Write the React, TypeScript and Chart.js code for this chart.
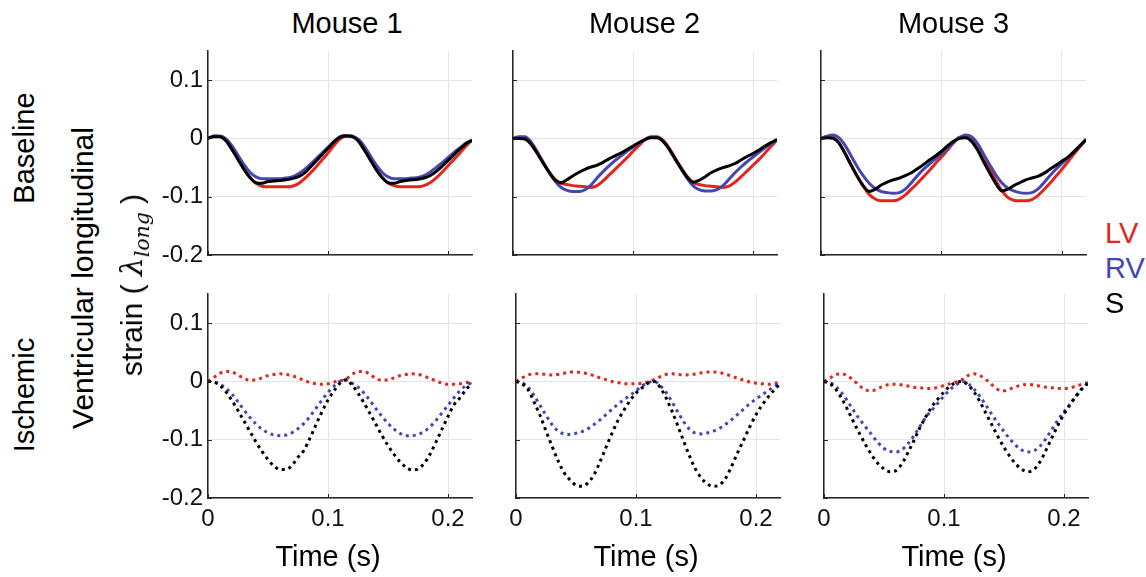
import React, { useEffect, useRef } from "react";
import { Chart, registerables } from "chart.js";

Chart.register(...registerables);

const FONT = "'Liberation Sans', Arial, Helvetica, sans-serif";
Chart.defaults.font.family = FONT;

const RED = "#e1261c";
const BLUE = "#4447b2";
const BLACK = "#000000";

// ---------- data ----------
const TIME = [
  0, 0.005, 0.01, 0.015, 0.02, 0.025, 0.03, 0.035, 0.04, 0.045, 0.05, 0.055, 0.06, 0.065, 0.07, 0.075, 0.08, 0.085,
  0.09, 0.095, 0.1, 0.105, 0.11, 0.115, 0.12, 0.125, 0.13, 0.135, 0.14, 0.145, 0.15, 0.155, 0.16, 0.165, 0.17, 0.175,
  0.18, 0.185, 0.19, 0.195, 0.2, 0.205, 0.21, 0.215, 0.22,
];
const Y_TICKS = [-0.2, -0.1, 0, 0.1];
const X_TICKS = [0, 0.1, 0.2];
const MICE = ["Mouse 1", "Mouse 2", "Mouse 3"];
const ROWS = ["Baseline", "Ischemic"];
const SERIES = ["LV", "RV", "S"];

// Baseline
const M1_BASE_LV = [0, 0.004, 0.003, -0.004, -0.019, -0.036, -0.053, -0.067, -0.077, -0.082, -0.083, -0.083, -0.083, -0.083, -0.082, -0.078, -0.07, -0.06, -0.049, -0.037, -0.025, -0.012, -0.001, 0.004, 0.004, -0.003, -0.018, -0.035, -0.052, -0.066, -0.076, -0.081, -0.083, -0.083, -0.083, -0.083, -0.081, -0.076, -0.068, -0.058, -0.047, -0.036, -0.025, -0.013, -0.003];
const M1_BASE_RV = [0, 0.004, 0.004, -0.001, -0.013, -0.029, -0.045, -0.058, -0.066, -0.069, -0.069, -0.069, -0.069, -0.068, -0.066, -0.061, -0.054, -0.045, -0.035, -0.025, -0.015, -0.005, 0.003, 0.005, 0.004, -0.001, -0.013, -0.029, -0.045, -0.058, -0.066, -0.069, -0.069, -0.069, -0.068, -0.067, -0.064, -0.058, -0.05, -0.042, -0.033, -0.024, -0.016, -0.008, -0.003];
const M1_BASE_S = [0, 0.003, 0.003, -0.004, -0.019, -0.036, -0.053, -0.067, -0.076, -0.077, -0.074, -0.073, -0.072, -0.071, -0.069, -0.066, -0.06, -0.05, -0.039, -0.028, -0.017, -0.006, 0.002, 0.004, 0.003, -0.004, -0.019, -0.036, -0.053, -0.067, -0.076, -0.077, -0.074, -0.072, -0.071, -0.07, -0.068, -0.064, -0.057, -0.048, -0.038, -0.028, -0.018, -0.009, -0.003];

const M2_BASE_LV = [0, 0.003, 0.003, -0.006, -0.022, -0.04, -0.057, -0.07, -0.077, -0.079, -0.081, -0.082, -0.083, -0.084, -0.081, -0.073, -0.063, -0.053, -0.043, -0.033, -0.022, -0.012, -0.002, 0.003, 0.003, -0.003, -0.016, -0.033, -0.05, -0.065, -0.075, -0.079, -0.081, -0.082, -0.083, -0.084, -0.082, -0.075, -0.066, -0.056, -0.046, -0.036, -0.025, -0.014, -0.003];
const M2_BASE_RV = [0, 0.002, 0.002, -0.007, -0.023, -0.041, -0.058, -0.073, -0.084, -0.089, -0.091, -0.091, -0.088, -0.08, -0.068, -0.057, -0.047, -0.038, -0.03, -0.022, -0.015, -0.008, -0.002, 0.002, 0.002, -0.004, -0.018, -0.035, -0.052, -0.068, -0.081, -0.088, -0.09, -0.09, -0.088, -0.081, -0.07, -0.059, -0.049, -0.04, -0.032, -0.024, -0.016, -0.009, -0.002];
const M2_BASE_S = [0, 0, -0.001, -0.01, -0.025, -0.042, -0.058, -0.071, -0.076, -0.071, -0.064, -0.058, -0.053, -0.049, -0.046, -0.041, -0.035, -0.03, -0.025, -0.019, -0.013, -0.007, -0.002, 0.001, 0.001, -0.005, -0.018, -0.035, -0.051, -0.066, -0.075, -0.072, -0.066, -0.059, -0.054, -0.05, -0.047, -0.043, -0.037, -0.031, -0.026, -0.02, -0.013, -0.007, -0.002];

const M3_BASE_LV = [0, 0.003, 0.002, -0.008, -0.026, -0.045, -0.064, -0.082, -0.096, -0.104, -0.107, -0.107, -0.107, -0.104, -0.097, -0.087, -0.077, -0.066, -0.055, -0.043, -0.032, -0.02, -0.008, 0.002, 0.003, -0.003, -0.016, -0.034, -0.053, -0.072, -0.089, -0.101, -0.106, -0.107, -0.107, -0.105, -0.098, -0.088, -0.077, -0.065, -0.053, -0.04, -0.027, -0.014, -0.002];
const M3_BASE_RV = [0, 0.004, 0.006, 0.001, -0.012, -0.03, -0.048, -0.064, -0.077, -0.086, -0.091, -0.093, -0.094, -0.093, -0.087, -0.076, -0.064, -0.053, -0.044, -0.035, -0.026, -0.017, -0.007, 0.001, 0.006, 0.003, -0.009, -0.027, -0.045, -0.062, -0.076, -0.085, -0.09, -0.093, -0.094, -0.093, -0.087, -0.076, -0.064, -0.053, -0.043, -0.033, -0.022, -0.012, -0.002];
const M3_BASE_S = [0, 0.001, 0, -0.008, -0.026, -0.046, -0.065, -0.081, -0.091, -0.087, -0.08, -0.075, -0.071, -0.068, -0.064, -0.059, -0.052, -0.045, -0.037, -0.03, -0.022, -0.013, -0.005, 0, 0.001, -0.005, -0.02, -0.04, -0.059, -0.077, -0.09, -0.087, -0.081, -0.076, -0.071, -0.068, -0.065, -0.06, -0.053, -0.046, -0.039, -0.032, -0.023, -0.013, -0.002];

// Ischemic
const M1_ISCH_LV = [0, 0.007, 0.014, 0.017, 0.016, 0.011, 0.005, 0.002, 0.003, 0.006, 0.01, 0.012, 0.013, 0.012, 0.01, 0.006, 0.002, -0.002, -0.004, -0.005, -0.004, -0.001, 0.001, 0.004, 0.012, 0.017, 0.017, 0.012, 0.005, 0.002, 0.003, 0.006, 0.01, 0.012, 0.013, 0.012, 0.009, 0.005, 0.001, -0.003, -0.005, -0.005, -0.004, -0.002, -0.001];
const M1_ISCH_RV = [0, -0.001, -0.005, -0.012, -0.022, -0.035, -0.049, -0.062, -0.073, -0.082, -0.088, -0.092, -0.093, -0.092, -0.088, -0.081, -0.072, -0.06, -0.046, -0.032, -0.019, -0.008, 0, 0.002, -0.003, -0.01, -0.02, -0.033, -0.047, -0.06, -0.072, -0.082, -0.089, -0.093, -0.093, -0.091, -0.086, -0.078, -0.067, -0.054, -0.041, -0.028, -0.016, -0.007, -0.002];
const M1_ISCH_S = [0, -0.001, -0.007, -0.018, -0.033, -0.05, -0.068, -0.086, -0.104, -0.12, -0.134, -0.145, -0.151, -0.151, -0.144, -0.13, -0.118, -0.097, -0.074, -0.052, -0.032, -0.016, -0.003, 0.003, -0.006, -0.02, -0.037, -0.055, -0.074, -0.093, -0.11, -0.125, -0.138, -0.147, -0.152, -0.15, -0.141, -0.125, -0.104, -0.082, -0.06, -0.04, -0.028, -0.014, -0.003];

const M2_ISCH_LV = [0, 0.006, 0.011, 0.013, 0.013, 0.012, 0.011, 0.012, 0.014, 0.016, 0.016, 0.015, 0.013, 0.01, 0.006, 0.003, 0, -0.002, -0.004, -0.004, -0.004, -0.003, -0.001, 0.003, 0.008, 0.012, 0.013, 0.012, 0.011, 0.012, 0.013, 0.015, 0.016, 0.016, 0.015, 0.012, 0.009, 0.005, 0.002, -0.001, -0.003, -0.004, -0.005, -0.004, -0.001];
const M2_ISCH_RV = [0, -0.002, -0.01, -0.024, -0.041, -0.058, -0.074, -0.085, -0.09, -0.091, -0.089, -0.086, -0.081, -0.074, -0.066, -0.057, -0.048, -0.039, -0.031, -0.024, -0.016, -0.008, -0.002, 0, -0.007, -0.019, -0.035, -0.053, -0.07, -0.083, -0.089, -0.09, -0.088, -0.085, -0.08, -0.073, -0.065, -0.056, -0.047, -0.038, -0.03, -0.023, -0.016, -0.009, -0.003];
const M2_ISCH_S = [0, -0.004, -0.014, -0.035, -0.058, -0.085, -0.111, -0.136, -0.156, -0.169, -0.178, -0.18, -0.174, -0.16, -0.138, -0.113, -0.089, -0.067, -0.049, -0.033, -0.02, -0.011, -0.003, 0, -0.01, -0.028, -0.051, -0.077, -0.104, -0.13, -0.152, -0.167, -0.177, -0.18, -0.177, -0.165, -0.144, -0.121, -0.099, -0.077, -0.057, -0.041, -0.027, -0.015, -0.004];

const M3_ISCH_LV = [0, 0.006, 0.012, 0.013, 0.009, 0.001, -0.008, -0.015, -0.016, -0.012, -0.008, -0.005, -0.005, -0.006, -0.008, -0.01, -0.011, -0.012, -0.012, -0.01, -0.007, -0.004, -0.001, 0.003, 0.01, 0.013, 0.01, 0.003, -0.006, -0.014, -0.016, -0.013, -0.009, -0.006, -0.005, -0.006, -0.008, -0.01, -0.011, -0.012, -0.012, -0.011, -0.008, -0.005, -0.002];
const M3_ISCH_RV = [0, -0.002, -0.009, -0.02, -0.035, -0.051, -0.066, -0.079, -0.092, -0.105, -0.115, -0.12, -0.121, -0.117, -0.107, -0.093, -0.077, -0.061, -0.049, -0.037, -0.025, -0.014, -0.006, 0, -0.004, -0.013, -0.026, -0.041, -0.057, -0.072, -0.086, -0.099, -0.11, -0.118, -0.121, -0.119, -0.111, -0.098, -0.082, -0.066, -0.052, -0.039, -0.026, -0.013, -0.003];
const M3_ISCH_S = [0, -0.004, -0.014, -0.03, -0.05, -0.071, -0.091, -0.11, -0.127, -0.141, -0.15, -0.155, -0.153, -0.141, -0.122, -0.101, -0.079, -0.06, -0.043, -0.03, -0.018, -0.008, -0.002, 0, -0.006, -0.018, -0.035, -0.055, -0.075, -0.095, -0.113, -0.129, -0.142, -0.151, -0.155, -0.151, -0.138, -0.118, -0.096, -0.075, -0.056, -0.04, -0.025, -0.012, -0.003];

// ---------- layout ----------
const YW = 70; // y-axis box width
const XH = 50; // x-axis box height
const PT = 10; // top padding
const PR = 12; // right padding

type Spec = {
  l: number; t: number; r: number; b: number;
  lv: number[]; rv: number[]; s: number[];
  dotted: boolean; showX: boolean; showY: boolean;
};

const PANELS: Spec[] = [
  { l: 208, t: 51, r: 472, b: 255, lv: M1_BASE_LV, rv: M1_BASE_RV, s: M1_BASE_S, dotted: false, showX: false, showY: true },
  { l: 513, t: 51, r: 777, b: 255, lv: M2_BASE_LV, rv: M2_BASE_RV, s: M2_BASE_S, dotted: false, showX: false, showY: false },
  { l: 821, t: 51, r: 1086, b: 255, lv: M3_BASE_LV, rv: M3_BASE_RV, s: M3_BASE_S, dotted: false, showX: false, showY: false },
  { l: 208, t: 294, r: 472, b: 498, lv: M1_ISCH_LV, rv: M1_ISCH_RV, s: M1_ISCH_S, dotted: true, showX: true, showY: true },
  { l: 516, t: 294, r: 780, b: 498, lv: M2_ISCH_LV, rv: M2_ISCH_RV, s: M2_ISCH_S, dotted: true, showX: true, showY: false },
  { l: 824, t: 294, r: 1088, b: 498, lv: M3_ISCH_LV, rv: M3_ISCH_RV, s: M3_ISCH_S, dotted: true, showX: true, showY: false },
];

const fmt = (v: number | string) => {
  const n = Math.round(Number(v) * 10) / 10;
  return n === 0 ? "0" : String(n);
};

const innerTicks = {
  id: "innerTicks",
  afterDraw(chart: any) {
    const { ctx, chartArea: a, scales } = chart;
    ctx.save();
    ctx.strokeStyle = "#262626";
    ctx.lineWidth = 1;
    ctx.beginPath();
    for (const v of Y_TICKS) {
      const y = Math.round(scales.y.getPixelForValue(v)) + 0.5;
      ctx.moveTo(a.left, y);
      ctx.lineTo(a.left + 4, y);
    }
    for (const v of X_TICKS) {
      const x = Math.round(scales.x.getPixelForValue(v)) + 0.5;
      ctx.moveTo(x, a.bottom);
      ctx.lineTo(x, a.bottom - 4);
    }
    ctx.stroke();
    ctx.restore();
  },
};

function makeDataset(label: string, values: number[], color: string, dotted: boolean) {
  return {
    label,
    data: TIME.map((t, i) => ({ x: t, y: values[i] })),
    borderColor: color,
    backgroundColor: color,
    borderWidth: 3,
    borderDash: dotted ? [3, 4] : [],
    borderCapStyle: "butt" as const,
    borderJoinStyle: "round" as const,
    pointRadius: 0,
    fill: false,
    cubicInterpolationMode: "monotone" as const,
  };
}

const zeroPad = (s: any) => {
  s.paddingTop = 0;
  s.paddingBottom = 0;
  s.paddingLeft = 0;
  s.paddingRight = 0;
};

function Panel({ spec }: { spec: Spec }) {
  const ref = useRef<HTMLCanvasElement | null>(null);
  const w = spec.r - spec.l + YW + PR;
  const h = spec.b - spec.t + PT + XH;
  useEffect(() => {
    if (!ref.current) return;
    const chart = new Chart(ref.current, {
      type: "line",
      data: {
        datasets: [
          makeDataset(SERIES[2], spec.s, BLACK, spec.dotted),
          makeDataset(SERIES[1], spec.rv, BLUE, spec.dotted),
          makeDataset(SERIES[0], spec.lv, RED, spec.dotted),
        ],
      },
      options: {
        responsive: false,
        animation: false,
        events: [],
        layout: { padding: { top: PT, right: PR, left: 0, bottom: 0 } },
        plugins: { legend: { display: false }, tooltip: { enabled: false }, title: { display: false } },
        scales: {
          x: {
            type: "linear",
            min: 0,
            max: 0.22,
            afterBuildTicks: (s: any) => {
              s.ticks = X_TICKS.map((v) => ({ value: v }));
            },
            afterFit: (s: any) => {
              s.height = XH;
              zeroPad(s);
            },
            grid: { color: "#e4e4e4", lineWidth: 1, drawTicks: false },
            border: { display: true, color: "#262626", width: 1.5 },
            ticks: {
              display: spec.showX,
              padding: 7,
              color: "#111",
              font: { size: 24, family: FONT },
              maxRotation: 0,
              autoSkip: false,
              callback: (v: any) => fmt(v),
            },
          },
          y: {
            type: "linear",
            min: -0.2,
            max: 0.15,
            afterBuildTicks: (s: any) => {
              s.ticks = Y_TICKS.map((v) => ({ value: v }));
            },
            afterFit: (s: any) => {
              s.width = YW;
              zeroPad(s);
            },
            grid: { color: "#e4e4e4", lineWidth: 1, drawTicks: false },
            border: { display: true, color: "#262626", width: 1.5 },
            ticks: {
              display: spec.showY,
              padding: 5,
              color: "#111",
              font: { size: 24, family: FONT },
              autoSkip: false,
              callback: (v: any) => fmt(v),
            },
          },
        },
      },
      plugins: [innerTicks],
    });
    return () => chart.destroy();
  }, [spec]);
  return (
    <canvas
      ref={ref}
      width={w}
      height={h}
      style={{ position: "absolute", left: spec.l - YW, top: spec.t - PT, width: w, height: h }}
    />
  );
}

function Txt({
  x, y, size, children, rotate = false, color = "#000", align = "center",
}: {
  x: number; y: number; size: number; children: React.ReactNode; rotate?: boolean; color?: string; align?: "center" | "left";
}) {
  const transform = rotate
    ? "translate(-50%, -50%) rotate(-90deg)"
    : align === "center"
    ? "translate(-50%, -50%)"
    : "translate(0, -50%)";
  return (
    <div
      style={{
        position: "absolute",
        left: x,
        top: y,
        transform,
        fontFamily: FONT,
        fontSize: size,
        lineHeight: `${size}px`,
        whiteSpace: "nowrap",
        color,
      }}
    >
      {children}
    </div>
  );
}

export default function App() {
  const titleX = [347, 644.5, 953.5];
  const timeX = [328, 646, 954];
  const rowY = [148, 395];
  const legendColors = [RED, BLUE, BLACK];
  const legendY = [232.5, 267.5, 302.5];
  return (
    <div style={{ position: "absolute", left: 0, top: 0, width: 1146, height: 577, background: "#fff", overflow: "hidden" }}>
      {PANELS.map((p, i) => (
        <Panel key={i} spec={p} />
      ))}
      {MICE.map((m, i) => (
        <Txt key={m} x={titleX[i]} y={23} size={29}>
          {m}
        </Txt>
      ))}
      {MICE.map((m, i) => (
        <Txt key={"t" + m} x={timeX[i]} y={556} size={29}>
          Time (s)
        </Txt>
      ))}
      {ROWS.map((r, i) => (
        <Txt key={r} x={24} y={rowY[i]} size={29} rotate>
          {r}
        </Txt>
      ))}
      <Txt x={83} y={277.5} size={30} rotate>
        Ventricular longitudinal
      </Txt>
      <Txt x={132} y={285} size={30} rotate>
        <span>strain ( </span>
        <span style={{ fontFamily: "'DejaVu Serif', 'Liberation Serif', serif", fontStyle: "italic" }}>
          λ
          <span style={{ fontSize: "0.68em", position: "relative", top: "0.32em", lineHeight: 0 }}>long</span>
        </span>
        <span> )</span>
      </Txt>
      {SERIES.map((s, i) => (
        <Txt key={s} x={1105} y={legendY[i]} size={29} color={legendColors[i]} align="left">
          {s}
        </Txt>
      ))}
    </div>
  );
}
